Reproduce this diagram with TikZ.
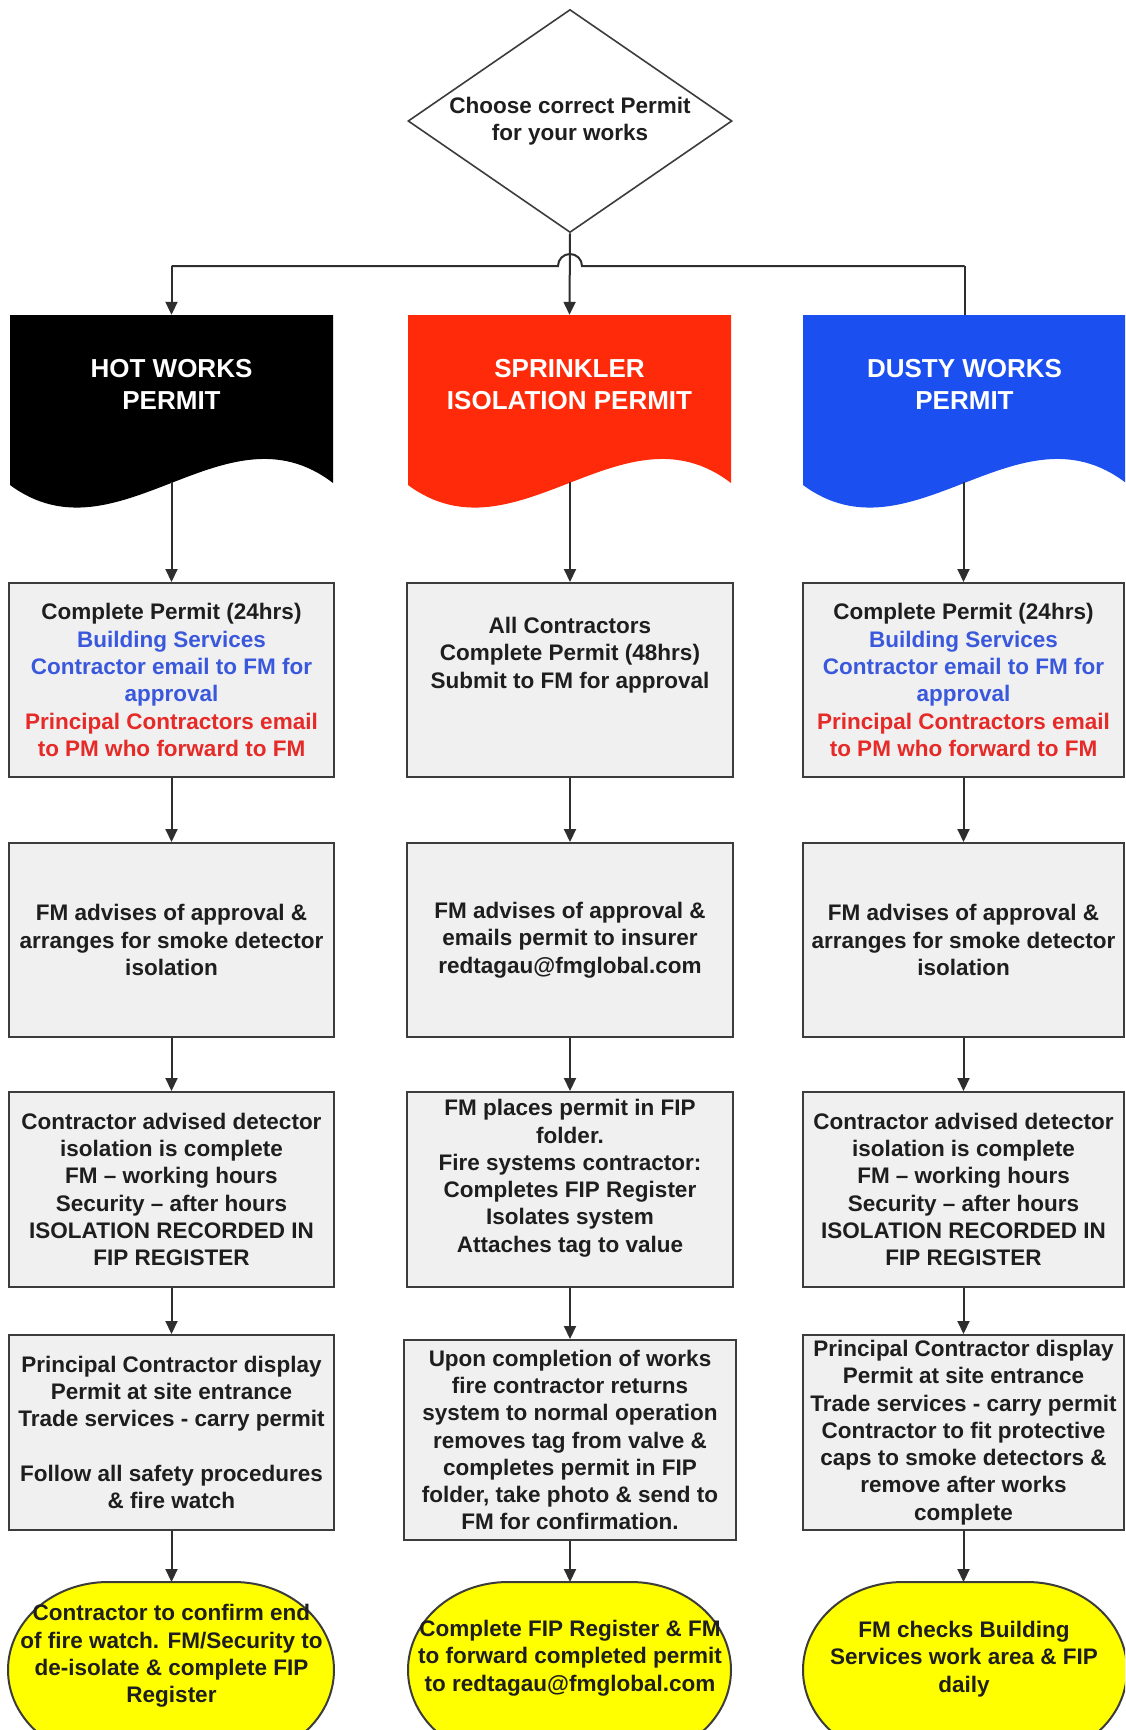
\documentclass[tikz,border=0pt]{standalone}
\usepackage{fontspec}
\setmainfont{Liberation Sans}
\usetikzlibrary{shapes.geometric,arrows.meta,calc}
\definecolor{boxfill}{HTML}{F0F0F0}
\definecolor{boxline}{HTML}{3C3C3C}
\definecolor{linec}{HTML}{2E2E2E}
\definecolor{txt}{HTML}{1E1E1E}
\definecolor{bluetxt}{HTML}{3A58DC}
\definecolor{redtxt}{HTML}{E52A28}
\definecolor{hotfill}{HTML}{000000}
\definecolor{sprfill}{HTML}{FF2A0A}
\definecolor{dustfill}{HTML}{1C4FF0}
\definecolor{termfill}{HTML}{FFFF00}
\newcommand\docwave[2]{\fill[#2] (#1,315) -- (#1+323,315) -- (#1+323,483) .. controls (#1+215,400) and (#1+108,565) .. (#1,485) -- cycle;}
\newcommand\termshape[2]{\filldraw[termline] (#1+100,1582) -- (#2-100,1582) arc[start angle=90,end angle=-90,x radius=100pt,y radius=88pt] -- (#1+100,1758) arc[start angle=270,end angle=90,x radius=100pt,y radius=88pt] -- cycle;}
\begin{document}
\begin{tikzpicture}[x=1pt,y=-1pt,
  every node/.style={font=\fontsize{22.5}{27.3}\selectfont\bfseries, text=txt, align=center, inner sep=0pt},
  stepbox/.style={draw=boxline, fill=boxfill, line width=2pt, rectangle},
  titlebox/.style={font=\fontsize{26}{32}\selectfont\bfseries, text=white, minimum width=323pt, minimum height=170pt},
  conn/.style={draw=linec, line width=2pt},
  arr/.style={conn, -{Triangle[length=13pt,width=12pt]}},
  termline/.style={draw=boxline, fill=termfill, line width=2pt},
]
\useasboundingbox (0,0) rectangle (1125,1730);
\clip (0,0) rectangle (1125,1730);
\fill[white] (0,0) rectangle (1125,1730);

% decision
\node[diamond, aspect=1.45, draw=boxline, line width=1.6pt, fill=white, minimum width=324pt, minimum height=223pt] (choose) at (570,121) {Choose correct Permit\\for your works};

% permit documents
\docwave{10}{hotfill}
\docwave{408}{sprfill}
\docwave{803}{dustfill}
\node[titlebox] (hot) at (171.5,400) {HOT WORKS\\PERMIT\\~};
\node[titlebox] (spr) at (569.5,400) {SPRINKLER\\ISOLATION PERMIT\\~};
\node[titlebox] (dusty) at (964.5,400) {DUSTY WORKS\\PERMIT\\~};

% bus
\coordinate (busL) at (171.5,266);
\coordinate (busR) at (964.5,266);
\coordinate (hopL) at (558,266);
\draw[conn] (busL) -- (hopL) arc[start angle=180,end angle=0,radius=12pt] -- (busR);
\draw[arr] (busL) -- (hot.north);
\draw[conn] (busR) -- (dusty.north);
\draw[arr] (choose.south) -- (spr.north);

\coordinate (hotW) at (171.5,482);
\coordinate (sprW) at (570,482);
\coordinate (dustW) at (963.5,482);

% row 2
\node[stepbox, minimum width=325pt, minimum height=194pt] (h2) at (171.5,680) {Complete Permit (24hrs)\\\textcolor{bluetxt}{Building Services}\\\textcolor{bluetxt}{Contractor email to FM for}\\\textcolor{bluetxt}{approval}\\\textcolor{redtxt}{Principal Contractors email}\\\textcolor{redtxt}{to PM who forward to FM}};
\node[stepbox, minimum width=326pt, minimum height=194pt] (s2) at (570,680) {All Contractors\\Complete Permit (48hrs)\\Submit to FM for approval\\~\\~};
\node[stepbox, minimum width=321pt, minimum height=194pt] (d2) at (963.5,680) {Complete Permit (24hrs)\\\textcolor{bluetxt}{Building Services}\\\textcolor{bluetxt}{Contractor email to FM for}\\\textcolor{bluetxt}{approval}\\\textcolor{redtxt}{Principal Contractors email}\\\textcolor{redtxt}{to PM who forward to FM}};

% row 3
\node[stepbox, minimum width=325pt, minimum height=194pt] (h3) at (171.5,940) {FM advises of approval \&\\arranges for smoke detector\\isolation};
\node[stepbox, minimum width=326pt, minimum height=194pt] (s3) at (570,940) {FM advises of approval \&\\emails permit to insurer\\redtagau@fmglobal.com};
\node[stepbox, minimum width=321pt, minimum height=194pt] (d3) at (963.5,940) {FM advises of approval \&\\arranges for smoke detector\\isolation};

% row 4
\node[stepbox, minimum width=325pt, minimum height=195pt] (h4) at (171.5,1189.5) {Contractor advised detector\\isolation is complete\\FM – working hours\\Security – after hours\\ISOLATION RECORDED IN\\FIP REGISTER};
\node[stepbox, minimum width=326pt, minimum height=195pt] (s4) at (570,1189.5) {FM places permit in FIP\\folder.\\Fire systems contractor:\\Completes FIP Register\\Isolates system\\Attaches tag to value\\~};
\node[stepbox, minimum width=321pt, minimum height=195pt] (d4) at (963.5,1189.5) {Contractor advised detector\\isolation is complete\\FM – working hours\\Security – after hours\\ISOLATION RECORDED IN\\FIP REGISTER};

% row 5
\node[stepbox, minimum width=325pt, minimum height=195pt] (h5) at (171.5,1432.5) {Principal Contractor display\\Permit at site entrance\\Trade services - carry permit\\~\\Follow all safety procedures\\\& fire watch};
\node[stepbox, minimum width=332pt, minimum height=200pt] (s5) at (570,1440) {Upon completion of works\\fire contractor returns\\system to normal operation\\removes tag from valve \&\\completes permit in FIP\\folder, take photo \& send to\\FM for confirmation.};
\node[stepbox, minimum width=321pt, minimum height=195pt] (d5) at (963.5,1432.5) {Principal Contractor display\\Permit at site entrance\\Trade services - carry permit\\Contractor to fit protective\\caps to smoke detectors \&\\remove after works\\complete};

% terminators
\termshape{8}{334}
\termshape{408}{731}
\termshape{803}{1127}
\node (hend) at (171.5,1656) {Contractor to confirm end\\of fire watch. FM/Security to\\de-isolate \& complete FIP\\Register};
\node (send) at (570,1658) {Complete FIP Register \& FM\\to forward completed permit\\to redtagau@fmglobal.com};
\node (dend) at (964,1659) {FM checks Building\\Services work area \& FIP\\daily};
\coordinate (hendT) at (171.5,1582);
\coordinate (sendT) at (570,1582);
\coordinate (dendT) at (963.5,1582);

% connectors
\draw[arr] (hotW) -- (h2.north);
\draw[arr] (sprW) -- (s2.north);
\draw[arr] (dustW) -- (d2.north);
\draw[arr] (h2.south) -- (h3.north);
\draw[arr] (s2.south) -- (s3.north);
\draw[arr] (d2.south) -- (d3.north);
\draw[arr] (h3.south) -- (h4.north);
\draw[arr] (s3.south) -- (s4.north);
\draw[arr] (d3.south) -- (d4.north);
\draw[arr] (h4.south) -- (h5.north);
\draw[arr] (s4.south) -- (s5.north);
\draw[arr] (d4.south) -- (d5.north);
\draw[arr] (h5.south) -- (hendT);
\draw[arr] (s5.south) -- (sendT);
\draw[arr] (d5.south) -- (dendT);
\end{tikzpicture}
\end{document}
